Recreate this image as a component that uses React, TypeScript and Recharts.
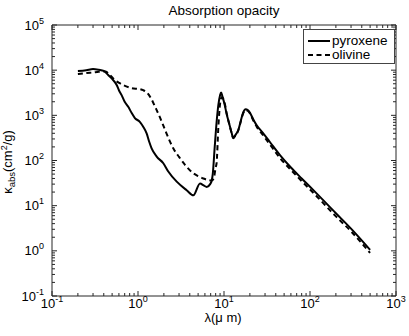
import React from 'react';
import { LineChart, Line, XAxis, YAxis, Legend } from 'recharts';

// wavelength (micron) and absorption opacity (cm^2/g)
const pyroxeneLambda = [
  0.2, 0.25, 0.3, 0.35, 0.4, 0.45, 0.5, 0.565, 0.6, 0.645, 0.7, 0.77, 0.845, 0.92,
  1.05, 1.15, 1.26, 1.35, 1.44, 1.65, 1.97, 2.25, 2.82, 3.68, 4.4, 5.26, 5.8, 6.3,
  6.9, 7.2, 7.4, 7.8, 8.2, 8.6, 9.0, 9.25, 9.6, 10.2, 10.7, 11.5, 12.3, 12.8, 13.5,
  14.7, 15.8, 16.7, 17.8, 19, 20, 22, 24, 28, 34, 45, 60, 80, 120, 200, 300, 500,
];
const pyroxeneKappa = [
  9600, 10000, 10600, 10200, 9600, 7800, 6400, 4700, 3600, 2800, 2000, 1550, 1120, 870,
  720, 560, 400, 260, 186, 122, 87, 57, 34, 22, 17, 31, 28, 26,
  30, 36, 50, 200, 700, 1700, 2800, 3200, 2600, 1700, 1100, 650, 400, 310, 360,
  480, 800, 1150, 1370, 1300, 1150, 800, 600, 420, 260, 130, 70, 40, 18.5, 6.8, 3.1, 1.05,
];

const olivineLambda = [
  0.2, 0.25, 0.3, 0.35, 0.42, 0.472, 0.54, 0.62, 0.706, 0.845, 1.05, 1.15, 1.29, 1.45,
  1.58, 1.8, 2.06, 2.3, 2.57, 3.0, 3.52, 4.4, 5.0, 5.75, 6.5, 7.2, 7.6, 8.0, 8.2, 8.6,
  9.0, 9.4, 9.7, 10.3, 10.7, 11.5, 12.3, 12.8, 13.5, 14.7, 15.8, 16.7, 17.8, 19, 20,
  22, 24, 28, 34, 45, 60, 80, 120, 200, 300, 500,
];
const olivineKappa = [
  8200, 8600, 8900, 9200, 9300, 7800, 6000, 5100, 4500, 4000, 3800, 3600, 3100, 2200,
  1550, 900, 480, 290, 186, 120, 80, 52, 45, 40, 37, 36, 40, 70, 87, 560,
  1800, 2500, 2400, 1700, 1150, 640, 400, 320, 350, 470, 780, 1100, 1300, 1250, 1100,
  760, 560, 380, 230, 112, 62, 35, 16, 5.8, 2.7, 0.9,
];

const seriesNames = ['pyroxene', 'olivine'];

const xMajorTicks = [0.1, 1, 10, 100, 1000];
const yMajorTicks = [0.1, 1, 10, 100, 1000, 10000, 100000];
const minorSteps = [2, 3, 4, 5, 6, 7, 8, 9];

const withMinor = (majors: number[]) =>
  majors.flatMap((m, i) =>
    i < majors.length - 1 ? [m, ...minorSteps.map((s) => +(m * s).toPrecision(4))] : [m]
  );

const xTicks = withMinor(xMajorTicks);
const yTicks = withMinor(yMajorTicks);

const pyroxeneData = pyroxeneLambda.map((l, i) => ({ lambda: l, kappa: pyroxeneKappa[i] }));
const olivineData = olivineLambda.map((l, i) => ({ lambda: l, kappa: olivineKappa[i] }));

const FONT = '"Liberation Sans", Arial, Helvetica, sans-serif';
const AXIS = '#262626';
const MAJOR = 5;
const MINOR = 3;

const expOf = (v: number) => Math.round(Math.log10(v));
const isMajor = (v: number) => Math.abs(Math.log10(v) - expOf(v)) < 1e-6;

const BottomTick = ({ x, y, payload }: any) => {
  const v = payload.value;
  const major = isMajor(v);
  return (
    <g>
      <line x1={x} x2={x} y1={y} y2={y - (major ? MAJOR : MINOR)} stroke={AXIS} />
      {major && (
        <text x={x} y={y + 12} textAnchor="middle" fontSize={13} fontFamily={FONT} fill="#000">
          10<tspan dy={-6} fontSize={9}>{expOf(v)}</tspan>
        </text>
      )}
    </g>
  );
};

const TopTick = ({ x, y, payload }: any) => (
  <line x1={x} x2={x} y1={y} y2={y + (isMajor(payload.value) ? MAJOR : MINOR)} stroke={AXIS} />
);

const LeftTick = ({ x, y, payload }: any) => {
  const v = payload.value;
  const major = isMajor(v);
  return (
    <g>
      <line x1={x} x2={x + (major ? MAJOR : MINOR)} y1={y} y2={y} stroke={AXIS} />
      {major && (
        <text x={x - 8} y={y + 4.5} textAnchor="end" fontSize={13} fontFamily={FONT} fill="#000">
          10<tspan dy={-6} fontSize={9}>{expOf(v)}</tspan>
        </text>
      )}
    </g>
  );
};

const RightTick = ({ x, y, payload }: any) => (
  <line x1={x} x2={x - (isMajor(payload.value) ? MAJOR : MINOR)} y1={y} y2={y} stroke={AXIS} />
);

const LegendBox = ({ payload }: any) => {
  const items = [...(payload || [])].sort(
    (a: any, b: any) => seriesNames.indexOf(a.value) - seriesNames.indexOf(b.value)
  );
  return (
    <svg width={93} height={35} style={{ display: 'block' }}>
      <rect x={0.5} y={0.5} width={91} height={34} fill="#fff" stroke="#444" />
      {items.map((p: any, i: number) => (
        <g key={p.value}>
          <line
            x1={5}
            x2={27}
            y1={12 + i * 14}
            y2={12 + i * 14}
            stroke="#000"
            strokeWidth={2}
            strokeDasharray={p.payload?.strokeDasharray}
          />
          <text x={29} y={15.5 + i * 14} fontSize={13.5} fontFamily={FONT} fill="#000">
            {p.value}
          </text>
        </g>
      ))}
    </svg>
  );
};

const App = () => (
  <div style={{ position: 'absolute', left: 0, top: 0, width: 409, height: 336, background: '#fff' }}>
    <LineChart width={409} height={336} margin={{ top: 24, right: 12, bottom: 0, left: 0 }}>
      <XAxis
        dataKey="lambda"
        type="number"
        scale="log"
        domain={[0.1, 1000]}
        allowDataOverflow
        ticks={xTicks}
        interval={0}
        tickSize={0}
        tickMargin={0}
        tickLine={false}
        tick={<BottomTick />}
        axisLine={{ stroke: AXIS }}
        height={40}
        label={{
          content: () => (
            <text x={223} y={322} textAnchor="middle" fontSize={13} fontFamily={FONT} fill="#000">
              λ(μ m)
            </text>
          ),
        }}
      />
      <XAxis
        xAxisId="top"
        orientation="top"
        dataKey="lambda"
        type="number"
        scale="log"
        domain={[0.1, 1000]}
        allowDataOverflow
        ticks={xTicks}
        interval={0}
        tickSize={0}
        tickMargin={0}
        tickLine={false}
        tick={<TopTick />}
        axisLine={{ stroke: AXIS }}
        height={1}
        label={{
          content: () => (
            <text x={224} y={14.5} textAnchor="middle" fontSize={13.5} fontFamily={FONT} fill="#000">
              Absorption opacity
            </text>
          ),
        }}
      />
      <YAxis
        type="number"
        scale="log"
        domain={[0.1, 100000]}
        allowDataOverflow
        ticks={yTicks}
        interval={0}
        tickSize={0}
        tickMargin={0}
        tickLine={false}
        tick={<LeftTick />}
        axisLine={{ stroke: AXIS }}
        width={52}
        label={{
          content: () => (
            <text
              x={12}
              y={162}
              transform="rotate(-90, 12, 162)"
              textAnchor="middle"
              fontSize={13}
              fontFamily={FONT}
              fill="#000"
            >
              κ<tspan dy={3} fontSize={9.5}>abs</tspan>
              <tspan dy={-3}>(cm</tspan>
              <tspan dy={-5} fontSize={9}>2</tspan>
              <tspan dy={5}>/g)</tspan>
            </text>
          ),
        }}
      />
      <YAxis
        yAxisId="right"
        orientation="right"
        type="number"
        scale="log"
        domain={[0.1, 100000]}
        allowDataOverflow
        ticks={yTicks}
        interval={0}
        tickSize={0}
        tickMargin={0}
        tickLine={false}
        tick={<RightTick />}
        axisLine={{ stroke: AXIS }}
        width={1}
      />
      <Legend
        layout="horizontal"
        verticalAlign="middle"
        align="center"
        content={<LegendBox />}
        wrapperStyle={{ position: 'absolute', left: 303, top: 29, width: 93, height: 35 }}
      />
      <Line
        name="pyroxene"
        data={pyroxeneData}
        dataKey="kappa"
        type="monotone"
        stroke="#000"
        strokeWidth={2}
        dot={false}
        isAnimationActive={false}
      />
      <Line
        name="olivine"
        data={olivineData}
        dataKey="kappa"
        type="monotone"
        stroke="#000"
        strokeWidth={2}
        strokeDasharray="5 3.5"
        dot={false}
        isAnimationActive={false}
      />
    </LineChart>
  </div>
);

export default App;
